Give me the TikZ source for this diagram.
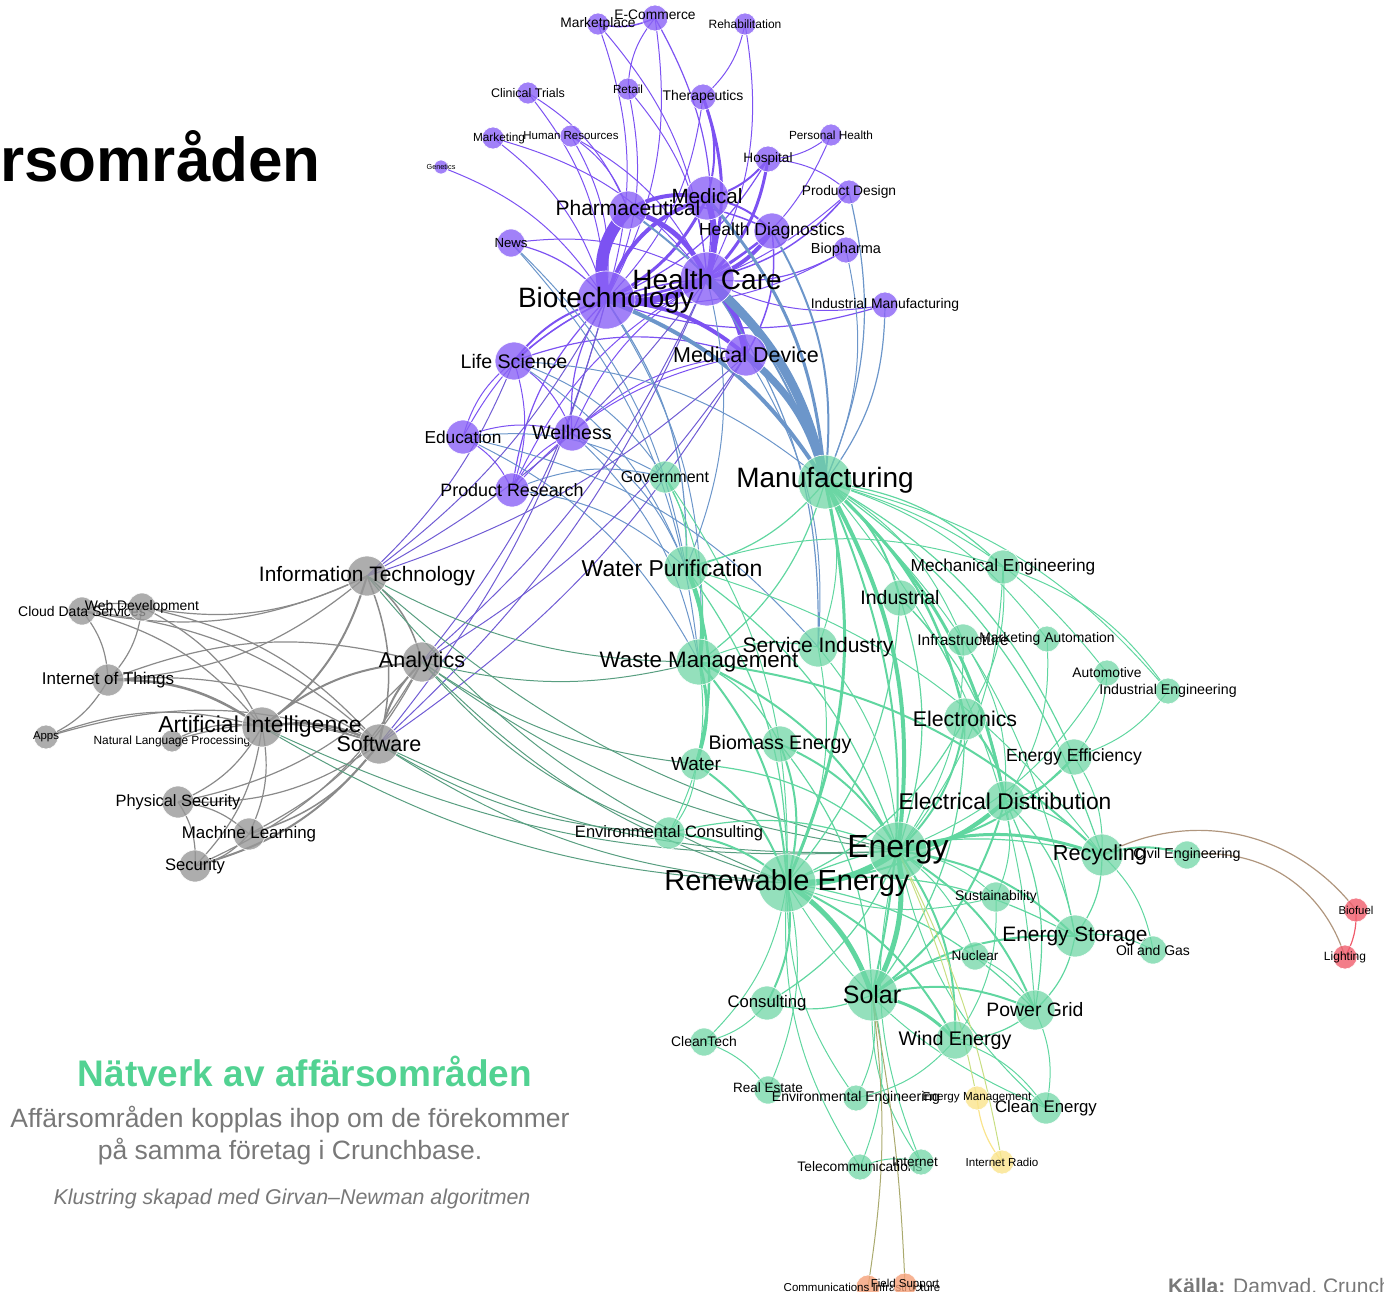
\documentclass[tikz,border=0pt]{standalone}
\usepackage{fontspec}
\setmainfont{Liberation Sans}
\usetikzlibrary{positioning}
\definecolor{pfill}{RGB}{138,98,246}
\definecolor{pline}{RGB}{124,82,242}
\definecolor{bline}{RGB}{108,150,202}
\definecolor{mline}{RGB}{112,92,212}
\definecolor{gfill}{RGB}{152,152,152}
\definecolor{gline}{RGB}{138,138,138}
\definecolor{tline}{RGB}{88,158,128}
\definecolor{nfill}{RGB}{112,214,166}
\definecolor{nline}{RGB}{96,214,160}
\definecolor{yfill}{RGB}{250,228,140}
\definecolor{yline}{RGB}{200,222,130}
\definecolor{rfill}{RGB}{240,92,108}
\definecolor{ofill}{RGB}{245,160,120}
\definecolor{oline}{RGB}{170,170,110}
\definecolor{brline}{RGB}{176,150,126}
\definecolor{titlegreen}{RGB}{82,210,146}
\definecolor{txtgray}{RGB}{120,120,120}
\pgfdeclarelayer{edges}
\pgfsetlayers{edges,main}
\tikzset{
  nd/.style={circle, inner sep=0pt, fill opacity=.8, draw=white, line width=.6pt},
  pn/.style={nd, fill=pfill},
  gn/.style={nd, fill=gfill},
  en/.style={nd, fill=nfill, fill opacity=.75},
  yn/.style={nd, fill=yfill},
  rn/.style={nd, fill=rfill},
  on/.style={nd, fill=ofill},
  lb/.style={font=\fontsize{#1}{#1}\selectfont, inner sep=0pt, text opacity=1, fill opacity=1},
  pe/.style={draw=pline, line width=1pt},
  be/.style={draw=bline, line width=1pt},
  me/.style={draw=mline, line width=1pt},
  ge/.style={draw=gline, line width=1.2pt},
  te/.style={draw=tline, line width=1pt},
  ee/.style={draw=nline, line width=1pt}
}
\begin{document}
\begin{tikzpicture}[x=1pt, y=-1pt]
\useasboundingbox (0,0) rectangle (1384,1292);

% health cluster
\node[pn, minimum size=22, label={[lb=13.8]center:Marketplace}] (mp) at (598,24) {};
\node[pn, minimum size=26, label={[lb=13.8, yshift=3]center:E-Commerce}] (ec) at (655,18) {};
\node[pn, minimum size=22, label={[lb=12]center:Rehabilitation}] (reh) at (745,24) {};
\node[pn, minimum size=22, label={[lb=12.5]center:Clinical Trials}] (ct) at (528,93) {};
\node[pn, minimum size=22, label={[lb=11.7]center:Retail}] (ret) at (628,89) {};
\node[pn, minimum size=26, label={[lb=14]center:Therapeutics}] (ther) at (703,97) {};
\node[pn, minimum size=22, label={[lb=11.8, xshift=6]center:Marketing}] (mkt) at (493,138) {};
\node[pn, minimum size=22, label={[lb=11.5]center:Human Resources}] (hr) at (571,136) {};
\node[pn, minimum size=14, label={[lb=7.3]center:Genetics}] (gen) at (441,167) {};
\node[pn, minimum size=22, label={[lb=11.8]center:Personal Health}] (ph) at (831,135) {};
\node[pn, minimum size=26, label={[lb=13.6]center:Hospital}] (hosp) at (768,159) {};
\node[pn, minimum size=44, label={[lb=20.6, yshift=2]center:Medical}] (med) at (707,198) {};
\node[pn, minimum size=38, label={[lb=21, yshift=2]center:Pharmaceutical}] (pharm) at (628,210) {};
\node[pn, minimum size=24, label={[lb=13.8]center:Product Design}] (pd) at (849,192) {};
\node[pn, minimum size=26, label={[lb=14.5]center:Biopharma}] (bph) at (846,250) {};
\node[pn, minimum size=36, label={[lb=17.5]center:Health Diagnostics}] (hd) at (772,231) {};
\node[pn, minimum size=28, label={[lb=13.2]center:News}] (news) at (511,243) {};
\node[pn, minimum size=54, label={[lb=28]center:Health Care}] (hc) at (707,279) {};
\node[pn, minimum size=58, label={[lb=28]center:Biotechnology}] (bio) at (606,300) {};
\node[pn, minimum size=26, label={[lb=13.9]center:Industrial Manufacturing}] (im) at (885,305) {};
\node[pn, minimum size=38, label={[lb=19.6]center:Life Science}] (ls) at (514,361) {};
\node[pn, minimum size=42, label={[lb=21.5]center:Medical Device}] (md) at (746,355) {};
\node[pn, minimum size=34, label={[lb=17.3]center:Education}] (edu) at (463,437) {};
\node[pn, minimum size=36, label={[lb=19.7, yshift=1]center:Wellness}] (well) at (572,433) {};
\node[pn, minimum size=34, label={[lb=17.9]center:Product Research}] (pr) at (512,490) {};

% tech cluster
\node[gn, minimum size=40, label={[lb=20.9]center:Information Technology}] (it) at (367,576) {};
\node[gn, minimum size=28, label={[lb=14]center:Cloud Data Services}] (cds) at (82,611) {};
\node[gn, minimum size=28, label={[lb=13.9]center:Web Development}] (wd) at (142,607) {};
\node[gn, minimum size=32, label={[lb=17]center:Internet of Things}] (iot) at (108,680) {};
\node[gn, minimum size=40, label={[lb=21.5]center:Analytics}] (an) at (422,662) {};
\node[gn, minimum size=24, label={[lb=11.4]center:Apps}] (apps) at (46,737) {};
\node[gn, minimum size=22, label={[lb=11.9]center:Natural Language Processing}] (nlp) at (172,741) {};
\node[gn, minimum size=40, label={[lb=23, xshift=-2]center:Artificial Intelligence}] (ai) at (262,727) {};
\node[gn, minimum size=40, label={[lb=21.5]center:Software}] (sw) at (379,744) {};
\node[gn, minimum size=32, label={[lb=16.4]center:Physical Security}] (ps) at (178,802) {};
\node[gn, minimum size=32, label={[lb=16.9]center:Machine Learning}] (ml) at (249,834) {};
\node[gn, minimum size=32, label={[lb=16.6]center:Security}] (sec) at (195,866) {};

% energy cluster
\node[en, minimum size=32, label={[lb=16]center:Government}] (gov) at (665,477) {};
\node[en, minimum size=54, label={[lb=28, yshift=2]center:Manufacturing}] (mf) at (825,482) {};
\node[en, minimum size=44, label={[lb=23, xshift=-14]center:Water Purification}] (wp) at (686,568) {};
\node[en, minimum size=34, label={[lb=17.3]center:Mechanical Engineering}] (mech) at (1003,567) {};
\node[en, minimum size=36, label={[lb=19.5]center:Industrial}] (ind) at (900,598) {};
\node[en, minimum size=32, label={[lb=15.5]center:Infrastructure}] (infra) at (963,640) {};
\node[en, minimum size=26, label={[lb=13.9]center:Marketing Automation}] (ma) at (1047,639) {};
\node[en, minimum size=40, label={[lb=21]center:Service Industry}] (si) at (818,647) {};
\node[en, minimum size=46, label={[lb=22.3]center:Waste Management}] (wm) at (699,662) {};
\node[en, minimum size=26, label={[lb=13.8]center:Automotive}] (auto) at (1107,673) {};
\node[en, minimum size=26, label={[lb=14.2]center:Industrial Engineering}] (ie) at (1168,691) {};
\node[en, minimum size=42, label={[lb=21.3]center:Electronics}] (elec) at (965,719) {};
\node[en, minimum size=36, label={[lb=19.6]center:Biomass Energy}] (bm) at (780,744) {};
\node[en, minimum size=32, label={[lb=19]center:Water}] (water) at (696,764) {};
\node[en, minimum size=36, label={[lb=17.6]center:Energy Efficiency}] (eff) at (1074,757) {};
\node[en, minimum size=40, label={[lb=22.8]center:Electrical Distribution}] (ed) at (1005,801) {};
\node[en, minimum size=32, label={[lb=16.5]center:Environmental Consulting}] (envc) at (669,833) {};
\node[en, minimum size=58, label={[lb=32, yshift=1]center:Energy}] (energy) at (898,851) {};
\node[en, minimum size=28, label={[lb=14.3]center:Civil Engineering}] (cive) at (1187,855) {};
\node[en, minimum size=42, label={[lb=21.7, xshift=-2]center:Recycling}] (rec) at (1102,855) {};
\node[en, minimum size=58, label={[lb=29]center:Renewable Energy}] (re) at (787,883) {};
\node[en, minimum size=30, label={[lb=13.9]center:Sustainability}] (sust) at (996,897) {};
\node[en, minimum size=42, label={[lb=20.9]center:Energy Storage}] (es) at (1075,936) {};
\node[en, minimum size=28, label={[lb=14]center:Oil and Gas}] (oil) at (1153,950) {};
\node[en, minimum size=28, label={[lb=13.6]center:Nuclear}] (nuc) at (975,956) {};
\node[en, minimum size=52, label={[lb=25]center:Solar}] (solar) at (872,995) {};
\node[en, minimum size=34, label={[lb=16.7]center:Consulting}] (cons) at (767,1003) {};
\node[en, minimum size=40, label={[lb=19.4]center:Power Grid}] (pg) at (1035,1010) {};
\node[en, minimum size=38, label={[lb=19.7]center:Wind Energy}] (wind) at (955,1040) {};
\node[en, minimum size=28, label={[lb=13.9]center:CleanTech}] (clt) at (704,1042) {};
\node[en, minimum size=28, label={[lb=13.5, yshift=2]center:Real Estate}] (real) at (768,1090) {};
\node[en, minimum size=26, label={[lb=14]center:Environmental Engineering}] (enve) at (856,1098) {};
\node[yn, minimum size=24, label={[lb=11.7]center:Energy Management}] (emg) at (977,1098) {};
\node[en, minimum size=32, label={[lb=16.8]center:Clean Energy}] (cle) at (1046,1108) {};
\node[en, minimum size=26, label={[lb=13.8]center:Telecommunications}] (tel) at (860,1167) {};
\node[en, minimum size=26, label={[lb=13.5, xshift=-6]center:Internet}] (inet) at (921,1162) {};
\node[yn, minimum size=24, label={[lb=11.6]center:Internet Radio}] (ir) at (1002,1162) {};

% small clusters
\node[rn, minimum size=24, label={[lb=11.4]center:Biofuel}] (biof) at (1356,910) {};
\node[rn, minimum size=24, label={[lb=12]center:Lighting}] (light) at (1345,957) {};
\node[on, minimum size=24, label={[lb=11.5, xshift=-6]center:Communications Infrastructure}] (comm) at (868,1287) {};
\node[on, minimum size=24, label={[lb=11.5]center:Field Support}] (fs) at (905,1285) {};

% texts
\node[font=\fontsize{62}{62}\selectfont\bfseries, anchor=base east, inner sep=0pt] (head) at (321,182) {rsområden};
\node[font=\fontsize{37}{37}\selectfont\bfseries, text=titlegreen, inner sep=0pt] (title) at (305,1071) {Nätverk av affärsområden};
\node[font=\fontsize{26.5}{32}\selectfont, text=txtgray, align=center, inner sep=0pt] (sub) at (290,1136) {Affärsområden kopplas ihop om de förekommer\\på samma företag i Crunchbase.};
\node[font=\fontsize{21.4}{24}\selectfont\itshape, text=txtgray, inner sep=0pt] (algo) at (292,1199) {Klustring skapad med Girvan–Newman algoritmen};
\node[font=\fontsize{21}{21}\selectfont, text=txtgray, anchor=base west, inner sep=0pt] (src) at (1168,1293) {\textbf{Källa:} Damvad, Crunchbase};

\begin{pgfonlayer}{edges}
\foreach \a/\b/\w in {mp/bio/1, mp/hc/1, ec/mp/1.5, ec/hc/1.2, ec/bio/1, ret/ec/1, reh/ther/1, reh/hc/1, ct/bio/1, ct/pharm/1,
  ret/hc/1, ret/bio/1, ther/hc/3, ther/med/2, ther/bio/1, mkt/bio/1, mkt/hc/1, hr/bio/1, hr/hc/1, hr/pharm/1, gen/bio/1,
  ph/hc/1, ph/hosp/1, hosp/hc/3, hosp/med/2, hosp/bio/1.2, hosp/pd/1, med/hc/6, med/bio/3, pd/hc/1.5, pd/bio/1,
  hd/hc/4, hd/bio/2.5, hd/md/1.5, news/bio/1.2, news/hc/1, bph/hc/1.2, bph/bio/1, hc/bio/7, hc/md/7, bio/md/4,
  im/hc/1, im/bio/1.2, ls/bio/2, ls/hc/1.5, ls/md/1.2, edu/ls/1, ls/well/1, ls/pr/1, edu/well/1, edu/pr/1,
  edu/bio/1, well/bio/1.2, well/hc/1, well/md/1, pr/bio/1.2, pr/hc/1, pr/well/1, pr/md/1, pharm/hd/1.5, med/hd/2}
  \draw[pe, line width=\w] (\a.center) to[bend left=18] (\b.center);
\draw[pe, line width=12] (bio.center) to[bend left=30] (pharm.center);
\draw[pe, line width=5] (pharm.center) to[bend left=25] (hc.center);
\draw[pe, line width=4] (pharm.center) to[bend left=20] (med.center);
\draw[pe, line width=4] (bio.center) to[bend left=28] (med.center);
\foreach \a/\b/\w in {hc/mf/9, md/mf/7, bio/mf/4, med/mf/3, pharm/mf/2, hd/mf/2, pd/mf/1.2, im/mf/1.2, bph/mf/1,
  news/wp/1, news/wm/1, ls/wp/1, ls/gov/1, edu/gov/1, edu/wm/1, pr/wp/1, well/wp/1, well/wm/1, hc/si/1.2, md/si/1,
  bio/wp/1.2, bio/wm/1, pr/gov/1, ls/mf/1, hc/wp/1, edu/si/1}
  \draw[be, line width=\w] (\a.center) to[bend left=18] (\b.center);
\foreach \a/\b in {it/bio, it/hc, it/md, an/bio, an/hc, sw/hc, sw/bio, an/md, sw/md, it/ls}
  \draw[me] (\a.center) to[bend right=12] (\b.center);
\foreach \a/\b/\w in {it/cds/1.2, it/wd/1.2, it/iot/1.2, it/ai/2, it/an/1.5, it/sw/1.5, cds/wd/1.2, cds/iot/1.2, cds/ai/1.2,
  cds/sw/1.2, wd/iot/1.2, wd/ai/1.2, wd/sw/1.2, iot/apps/1.2, iot/ai/2.5, iot/sw/1.2, iot/an/1.2, apps/ai/1.2, apps/sw/1.2,
  nlp/ai/1.2, nlp/sw/1.2, ai/an/2, ai/sw/2.5, ai/ps/1.2, ai/ml/1.2, ai/sec/1.2, sw/an/2, sw/ps/1.2, sw/ml/1.5, sw/sec/2,
  an/ps/1.2, an/ml/1.2, an/sec/1.2, ps/ml/1.2, ps/sec/1.2, ml/sec/1.2}
  \draw[ge, line width=\w] (\a.center) to[bend left=18] (\b.center);
\foreach \a/\b in {ai/re, ai/energy, an/re, an/wm, an/energy, an/envc, sw/re, sw/energy, sw/envc, it/re, it/wm, it/energy, an/water}
  \draw[te] (\a.center) to[bend right=14] (\b.center);
\foreach \a/\b/\w in {mf/energy/4, mf/ed/3, mf/re/3, mf/solar/2, mf/ind/2, mf/mech/1.2, mf/elec/2.5, mf/wp/1.2, mf/wm/1.2,
  mf/rec/1.2, mf/eff/1.2, mf/ie/1, mf/auto/1, mf/infra/1, mf/ma/1, mf/pg/1, mf/es/1, mf/si/1, gov/wp/1, gov/wm/1, gov/re/1,
  wp/wm/4, wp/water/2.5, wp/re/1.2, wp/energy/1.2, wp/rec/1, wp/mech/1, wm/water/3, wm/re/2, wm/energy/2, wm/rec/2,
  wm/bm/1.2, wm/si/1, wm/envc/1, water/re/2, water/energy/1.2, water/envc/1, bm/energy/2, bm/re/2, bm/solar/1.2, si/energy/1,
  si/re/1, ind/energy/1.2, ind/elec/1, ind/ed/1.2, mech/elec/1, mech/energy/1, mech/ie/1, infra/energy/1, infra/ed/1,
  ma/ed/1, auto/eff/1, auto/energy/1, ie/eff/1, elec/energy/2, elec/ed/2, elec/re/1.2, eff/energy/2, eff/ed/1.2, eff/rec/1,
  ed/energy/4, ed/re/2, ed/solar/2, ed/rec/1.2, ed/pg/1.2, envc/re/2, envc/energy/1.2, energy/re/6, energy/solar/5,
  re/solar/5, energy/rec/3, energy/sust/1, energy/es/2, energy/nuc/1, energy/pg/2, energy/wind/2, energy/cons/1.2,
  re/rec/1.2, re/es/1.2, re/wind/2, re/cons/2, re/pg/1.2, re/clt/1, re/real/1, solar/wind/3, solar/pg/2, solar/es/2,
  solar/cons/1.2, solar/enve/1, solar/tel/1, solar/nuc/1, rec/cive/2, rec/es/1.2, rec/oil/1, es/oil/1, es/pg/1.2, nuc/pg/1,
  pg/wind/1.2, pg/cle/1, wind/cle/1, wind/enve/1, cons/clt/1, clt/real/1, enve/re/1, tel/inet/1, inet/energy/1,
  cle/energy/1, cle/re/1, sust/re/1, sust/wind/1, ed/es/1.2, ed/sust/1, elec/solar/1.2, ind/re/1.2, tel/re/1, inet/solar/1}
  \draw[ee, line width=\w] (\a.center) to[bend left=18] (\b.center);
\draw[draw=yline, line width=1] (energy.center) to[bend left=6] (emg.center);
\draw[draw=yline, line width=1] (energy.center) to[bend left=8] (ir.center);
\draw[draw=yfill, line width=1.2] (emg.center) to[bend right=15] (ir.center);
\draw[draw=oline, line width=1] (solar.center) to[bend left=8] (comm.center);
\draw[draw=oline, line width=1] (solar.center) to[bend left=4] (fs.center);
\draw[draw=brline, line width=1.2] (rec.center) to[bend left=40] (biof.center);
\draw[draw=brline, line width=1.2] (cive.center) to[bend left=40] (light.center);
\draw[draw=rfill, line width=1.2] (biof.center) to[bend left=15] (light.center);
\end{pgfonlayer}
\end{tikzpicture}
\end{document}
